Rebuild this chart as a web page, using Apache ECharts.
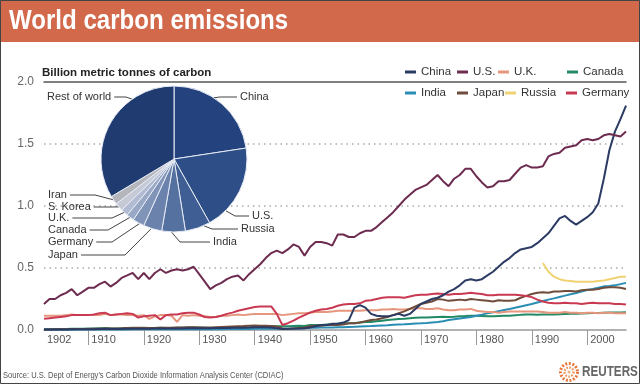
<!DOCTYPE html>
<html><head><meta charset="utf-8">
<script src="https://cdn.jsdelivr.net/npm/echarts@6/dist/echarts.min.js"></script>
<style>html,body{margin:0;padding:0;background:#fff}#c{width:640px;height:384px}</style>
</head><body><div id="c"></div>
<script>
// ---------- data ----------
const years = []; for (let y = 1902; y <= 2007; y++) years.push(y);
const russiaYears = []; for (let y = 1992; y <= 2007; y++) russiaYears.push(y);

const usValues = [
0.21,0.25,0.25,0.28,0.30,0.33,0.28,0.31,0.34,0.34,
0.37,0.39,0.35,0.38,0.42,0.44,0.46,0.41,0.46,0.41,
0.46,0.49,0.46,0.48,0.49,0.48,0.49,0.51,0.45,0.39,
0.33,0.36,0.38,0.41,0.43,0.44,0.40,0.45,0.49,0.53,
0.58,0.62,0.64,0.62,0.65,0.69,0.67,0.60,0.67,0.71,
0.71,0.70,0.68,0.77,0.77,0.75,0.75,0.78,0.80,0.80,
0.83,0.87,0.91,0.95,1.00,1.05,1.09,1.13,1.15,1.17,
1.21,1.25,1.20,1.16,1.22,1.25,1.30,1.30,1.24,1.19,
1.15,1.16,1.20,1.20,1.21,1.26,1.31,1.33,1.31,1.31,
1.32,1.40,1.42,1.43,1.47,1.48,1.49,1.53,1.54,1.53,
1.54,1.57,1.58,1.57,1.56,1.60];

const chinaValues = [
0.005,0.005,0.005,0.005,0.005,0.006,0.006,0.007,0.007,0.007,
0.008,0.008,0.008,0.009,0.009,0.010,0.010,0.010,0.011,0.011,
0.012,0.012,0.012,0.013,0.013,0.013,0.014,0.014,0.014,0.015,
0.015,0.016,0.016,0.017,0.018,0.018,0.019,0.020,0.022,0.022,
0.022,0.020,0.015,0.008,0.010,0.012,0.012,0.015,
0.02,0.03,0.04,0.04,0.05,0.05,0.06,0.08,0.18,0.20,
0.18,0.13,0.115,0.11,0.11,0.12,0.13,0.115,0.13,0.17,
0.21,0.23,0.25,0.26,0.28,0.31,0.33,0.36,0.40,0.41,
0.40,0.41,0.44,0.47,0.51,0.55,0.58,0.62,0.65,0.66,
0.67,0.70,0.74,0.78,0.84,0.90,0.92,0.88,0.85,0.88,
0.91,0.95,1.02,1.22,1.45,1.60,1.70,1.81];

const ukValues = [
0.115,0.115,0.115,0.115,0.12,0.125,0.12,0.12,0.12,0.12,
0.12,0.13,0.12,0.125,0.125,0.12,0.12,0.115,0.12,0.09,
0.11,0.12,0.12,0.115,0.065,0.12,0.115,0.12,0.115,0.11,
0.105,0.105,0.115,0.115,0.12,0.125,0.12,0.125,0.13,0.13,
0.13,0.13,0.13,0.12,0.125,0.13,0.135,0.135,0.14,0.145,
0.145,0.145,0.15,0.155,0.155,0.155,0.155,0.155,0.16,0.16,
0.16,0.165,0.165,0.17,0.165,0.165,0.17,0.175,0.175,0.17,
0.17,0.175,0.165,0.16,0.16,0.165,0.165,0.17,0.155,0.15,
0.145,0.145,0.14,0.145,0.15,0.15,0.15,0.15,0.15,0.15,
0.145,0.14,0.14,0.14,0.145,0.14,0.14,0.135,0.14,0.14,
0.135,0.14,0.14,0.135,0.135,0.135];

const canadaValues = [
0.006,0.007,0.007,0.008,0.008,0.010,0.010,0.011,0.012,0.013,
0.015,0.016,0.014,0.013,0.015,0.017,0.018,0.016,0.018,0.016,
0.016,0.019,0.017,0.017,0.018,0.019,0.020,0.021,0.020,0.018,
0.016,0.016,0.017,0.018,0.020,0.021,0.020,0.021,0.024,0.026,
0.028,0.030,0.031,0.030,0.030,0.032,0.034,0.033,
0.04,0.04,0.04,0.045,0.045,0.05,0.055,0.055,0.055,0.06,
0.065,0.065,0.07,0.075,0.08,0.085,0.088,0.09,0.095,0.098,
0.10,0.10,0.103,0.105,0.106,0.105,0.107,0.11,0.112,0.115,
0.115,0.113,0.11,0.11,0.113,0.115,0.114,0.118,0.122,0.125,
0.125,0.123,0.124,0.124,0.126,0.128,0.13,0.132,0.132,0.134,
0.136,0.137,0.138,0.14,0.141,0.142,0.142,0.143];

const indiaValues = [
0.002,0.002,0.002,0.003,0.003,0.003,0.004,0.004,0.004,0.004,
0.004,0.005,0.005,0.005,0.005,0.005,0.006,0.006,0.006,0.006,
0.006,0.006,0.006,0.006,0.006,0.007,0.007,0.007,0.007,0.007,
0.007,0.007,0.007,0.008,0.008,0.008,0.009,0.009,0.010,0.010,
0.010,0.011,0.011,0.011,0.011,0.011,0.012,0.014,
0.018,0.019,0.02,0.02,0.021,0.022,0.023,0.025,0.026,0.028,
0.03,0.032,0.035,0.037,0.039,0.042,0.044,0.046,0.049,0.052,
0.054,0.057,0.061,0.065,0.07,0.08,0.086,0.092,0.098,0.105,
0.115,0.124,0.134,0.143,0.152,0.161,0.17,0.18,0.19,0.2,
0.21,0.222,0.234,0.245,0.255,0.266,0.277,0.288,0.298,0.31,
0.322,0.33,0.34,0.352,0.355,0.36,0.37,0.38];

const japanValues = [
0.005,0.005,0.006,0.006,0.007,0.008,0.008,0.008,0.009,0.010,
0.011,0.012,0.012,0.013,0.014,0.016,0.017,0.018,0.017,0.016,
0.017,0.018,0.019,0.019,0.020,0.021,0.022,0.022,0.021,0.020,
0.021,0.023,0.025,0.027,0.029,0.031,0.032,0.034,0.036,0.035,
0.034,0.032,0.028,0.012,0.008,0.012,0.016,0.020,
0.03,0.035,0.035,0.04,0.04,0.04,0.045,0.055,0.055,0.06,
0.07,0.08,0.085,0.095,0.105,0.12,0.135,0.15,0.17,0.19,
0.21,0.22,0.23,0.25,0.245,0.235,0.24,0.245,0.24,0.25,
0.245,0.24,0.235,0.23,0.24,0.235,0.235,0.24,0.26,0.275,
0.29,0.30,0.305,0.30,0.31,0.31,0.315,0.315,0.31,0.32,
0.325,0.325,0.33,0.34,0.345,0.345,0.34,0.33];

const russiaValues = [0.54,0.47,0.43,0.41,0.40,0.395,0.39,0.39,0.39,0.39,0.395,0.40,0.41,0.42,0.43,0.43];

const germanyValues = [
0.09,0.095,0.10,0.105,0.11,0.12,0.12,0.12,0.12,0.125,
0.135,0.14,0.12,0.125,0.13,0.135,0.13,0.10,0.11,0.115,
0.12,0.085,0.12,0.125,0.125,0.135,0.14,0.14,0.125,0.105,
0.10,0.105,0.115,0.13,0.14,0.155,0.165,0.175,0.185,0.19,
0.19,0.19,0.13,0.04,0.055,0.075,0.10,0.12,0.14,0.155,
0.165,0.17,0.18,0.195,0.205,0.21,0.21,0.215,0.235,0.24,
0.25,0.26,0.265,0.265,0.265,0.26,0.27,0.28,0.285,0.285,
0.29,0.295,0.29,0.285,0.29,0.29,0.295,0.30,0.295,0.29,
0.28,0.28,0.285,0.285,0.285,0.285,0.28,0.275,0.265,0.245,
0.23,0.22,0.215,0.215,0.22,0.215,0.215,0.21,0.215,0.22,
0.215,0.215,0.215,0.21,0.21,0.205];

// pie: share of 2007 emissions (%)
const pieNames = ['China','U.S.','Russia','India','Japan','Germany','Canada','U.K.','S. Korea','Iran','Rest of world'];
const pieValues = [22.6,19.3,5.6,5.2,4.1,2.6,1.7,1.6,1.8,1.9,33.6];

const yTickLabels = [0, 0.5, 1.0, 1.5, 2.0];
const xLabelYears = [1902,1910,1920,1930,1940,1950,1960,1970,1980,1990,2000];
const xTickYears = [1910,1920,1930,1940,1950,1960,1970,1980,1990,2000];

const titleText = 'World carbon emissions';
const subtitleText = 'Billion metric tonnes of carbon';
const sourceText = "Source: U.S. Dept of Energy's Carbon Dioxide Information Analysis Center (CDIAC)";

// ---------- styles ----------
const SANS = "'Liberation Sans',Arial,sans-serif";
const pieColors = ['#24427d','#2e4e88','#3e5e94','#54719f','#6b83ac','#8094b7','#99a8c5','#b1bcd2','#c5cad6','#b4b6bb','#1f3b70'];
const PIE_CX = 174, PIE_CY = 159, PIE_R = 73;
// label placement: [labelX, labelY, side, attachAngleDeg, elbowX]
const pieLabelStyle = [
  [240, 97, 'right', 57, 220],
  [252, 216, 'right', -45, 235],
  [241, 229, 'right', -66, 212],
  [213, 242, 'right', -92, 180],
  [48, 255, 'left', -108, 125],
  [48, 242, 'left', -118, 112],
  [48, 230, 'left', -127, 108],
  [48, 218, 'left', -133, 112],
  [48, 207, 'left', -139, 110],
  [48, 195, 'left', -146, 95],
  [47, 97, 'left', 125, 126]
];

const seriesDefs = [
  {name:'Canada', years, values:canadaValues, color:'#238a66', z:2},
  {name:'India', years, values:indiaValues, color:'#2a8db3', z:2},
  {name:'U.K.', years, values:ukValues, color:'#e5967c', z:2},
  {name:'Japan', years, values:japanValues, color:'#6f4c3b', z:3},
  {name:'Germany', years, values:germanyValues, color:'#c93a52', z:3},
  {name:'Russia', years:russiaYears, values:russiaValues, color:'#f0d273', z:3},
  {name:'China', years, values:chinaValues, color:'#2c3b64', z:4},
  {name:'U.S.', years, values:usValues, color:'#6d2b4f', z:4}
];

const legendSlots = [
  ['China',405,66],['U.S.',457,66],['U.K.',498,66],['Canada',567,66],
  ['India',405,87],['Japan',457,87],['Russia',505,87],['Germany',566,87]
];

const chart = echarts.init(document.getElementById('c'), null, {renderer:'canvas'});

const lineSeries = seriesDefs.map(d => ({
  type:'line', name:d.name,
  data:d.years.map((y,i)=>[y, d.values[i]]),
  showSymbol:false, symbol:'none',
  lineStyle:{width:2, color:d.color}, itemStyle:{color:d.color},
  z:d.z, animation:false, silent:true
}));

const pieSeries = {
  type:'pie', center:[PIE_CX, PIE_CY], radius:[0, PIE_R],
  startAngle:90, clockwise:true, animation:false, silent:true, z:5,
  data:pieNames.map((n,i)=>({name:n, value:pieValues[i], itemStyle:{color:pieColors[i]}})),
  itemStyle:{borderColor:'#e6ebf5', borderWidth:1},
  label:{show:true, position:'outside', fontSize:11, color:'#333', fontFamily:SANS},
  labelLine:{show:true, length:5, length2:5, smooth:false, lineStyle:{color:'#444', width:1}},
  labelLayout:function(p){
    const s = pieLabelStyle[p.dataIndex];
    const a = s[3]*Math.PI/180;
    const p0 = [PIE_CX + PIE_R*Math.cos(a), PIE_CY - PIE_R*Math.sin(a)];
    const w = p.labelRect.width;
    const endX = s[2]==='left' ? s[0] + w + 3 : s[0] - 3;
    return {x:s[0], y:s[1], align:'left', verticalAlign:'middle',
      labelLinePoints:[p0, [s[4], s[1]], [endX, s[1]]]};
  }
};

const option = {
  backgroundColor:'#fff',
  animation:false,
  title:[
    {text:subtitleText, left:42, top:66, padding:0,
     textStyle:{color:'#222', fontSize:11.5, fontWeight:'bold', fontFamily:SANS, lineHeight:14}}
  ],
  legend: legendSlots.map(([n,x,y]) => ({
    data:[n], left:x, top:y, padding:0, icon:'rect', itemWidth:11, itemHeight:3,
    selectedMode:false, textStyle:{fontSize:11.5, color:'#333', fontFamily:SANS}
  })),
  grid:{left:44, right:14, top:82, bottom:54, containLabel:false},
  xAxis:[
    {type:'value', min:1902, max:2007, position:'bottom',
     axisLine:{show:true, onZero:false, lineStyle:{color:'#999', width:1.5}},
     axisTick:{show:true, customValues:xTickYears, length:15, lineStyle:{color:'#999', width:1}},
     axisLabel:{customValues:xLabelYears, formatter:v=>String(v), align:'left', verticalAlign:'middle',
       margin:10, padding:[0,0,0,3], color:'#555', fontSize:11, fontFamily:SANS},
     splitLine:{show:false}},
    {type:'value', min:1902, max:2007, position:'top',
     axisLine:{show:true, onZero:false, lineStyle:{color:'#555', width:1.5}},
     axisTick:{show:false}, axisLabel:{show:false}, splitLine:{show:false}}
  ],
  yAxis:{type:'value', min:yTickLabels[0], max:yTickLabels[yTickLabels.length-1], interval:0.5,
    axisLine:{show:false}, axisTick:{show:false},
    axisLabel:{formatter:v=>v.toFixed(1), color:'#666', fontSize:12, margin:10, fontFamily:SANS},
    splitLine:{show:true, lineStyle:{type:[1.5,4], width:1.5,
      color:['rgba(0,0,0,0)','#aaa','#aaa','#aaa','rgba(0,0,0,0)']}}},
  graphic:[
    {type:'rect', z:0, shape:{x:0, y:0, width:640, height:42}, style:{fill:'#d2694b'}, silent:true},
    {type:'rect', z:0, shape:{x:0.5, y:0.5, width:639, height:383}, style:{fill:'none', stroke:'#444', lineWidth:1}, silent:true},
    {type:'text', z:1, x:9, y:21, scaleX:0.86, style:{text:titleText, fill:'#fff', font:"bold 28px 'Liberation Sans',Arial,sans-serif", textVerticalAlign:'middle'}, silent:true},
    {type:'text', z:1, x:3, y:376, scaleX:0.84, style:{text:sourceText, fill:'#555', font:"9px 'Liberation Sans',Arial,sans-serif", textVerticalAlign:'middle'}, silent:true},
    {type:'circle', z:1, shape:{cx:569, cy:372, r:8.5}, style:{fill:'none', stroke:'#e6793f', lineWidth:3, lineDash:[2,1.6]}, silent:true},
    {type:'circle', z:1, shape:{cx:569, cy:372, r:4.5}, style:{fill:'none', stroke:'#ee9a62', lineWidth:2.5, lineDash:[1.6,1.4]}, silent:true},
    {type:'circle', z:1, shape:{cx:569, cy:372, r:1.5}, style:{fill:'#f0b080'}, silent:true},
    {type:'text', z:1, x:582, y:372, scaleX:0.78, style:{text:'REUTERS', fill:'#666', font:"bold 15px 'Liberation Sans',Arial,sans-serif", textVerticalAlign:'middle'}, silent:true}
  ],
  series:[...lineSeries, pieSeries]
};
chart.setOption(option);
</script></body></html>
